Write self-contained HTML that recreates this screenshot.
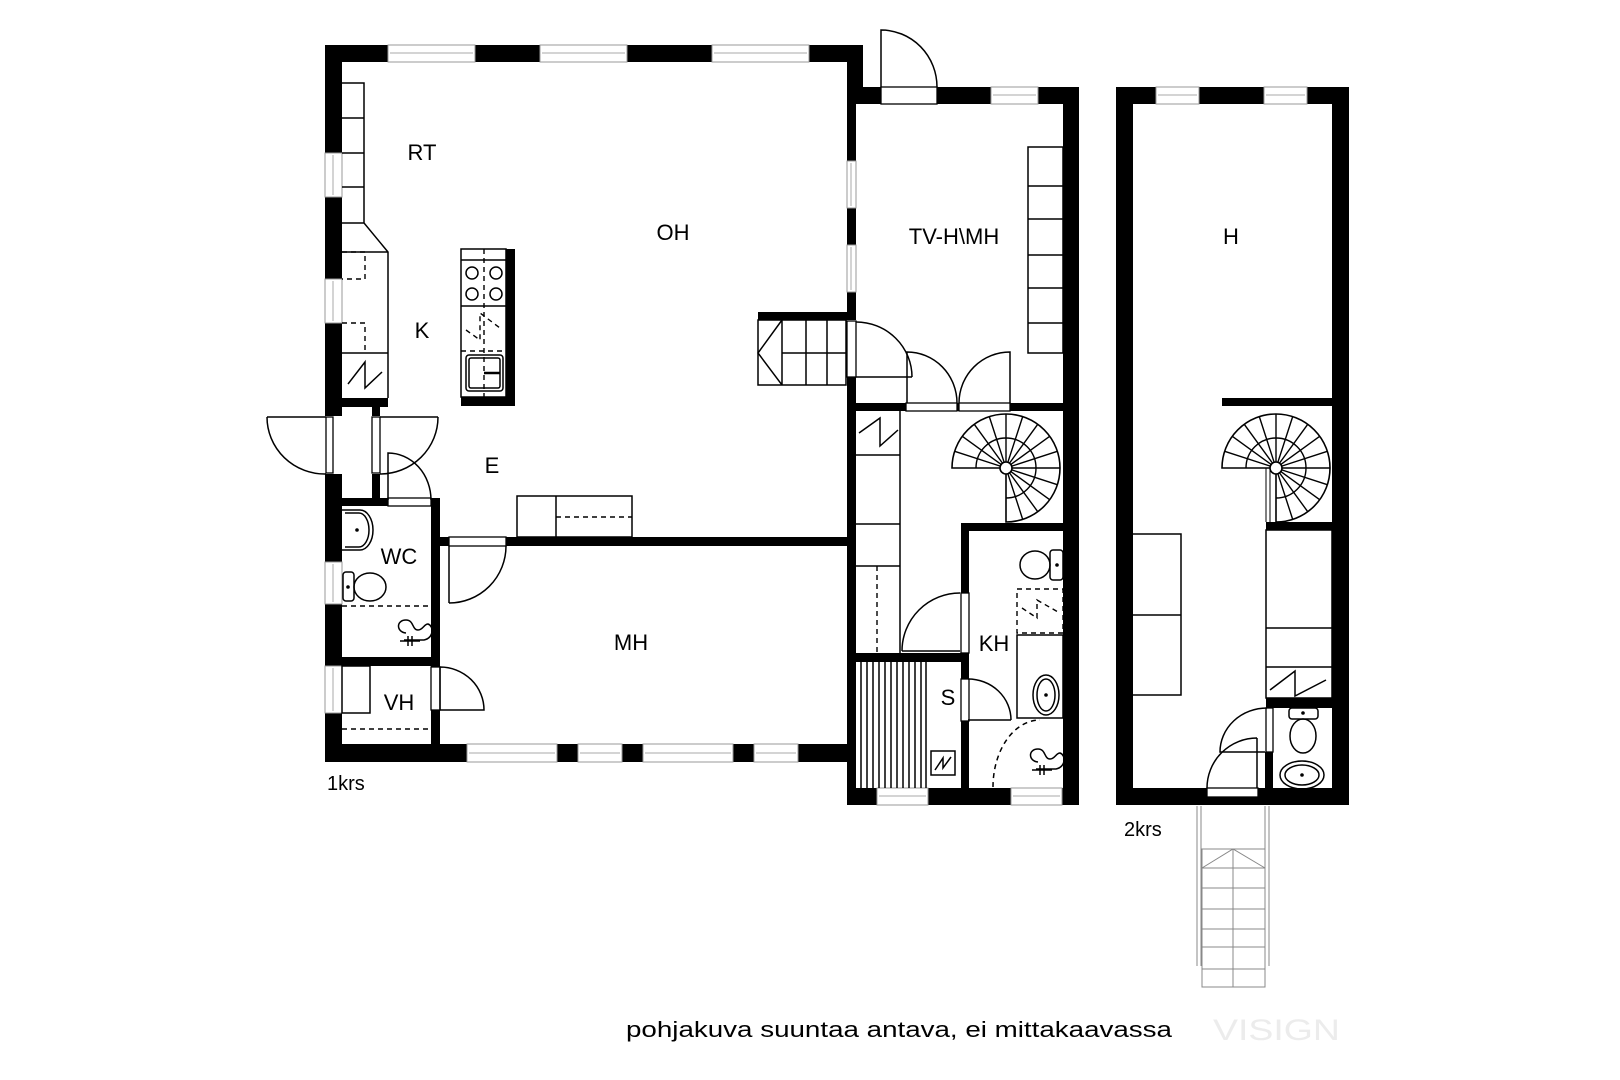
<!DOCTYPE html>
<html><head><meta charset="utf-8"><style>
html,body{margin:0;padding:0;background:#fff;}
svg{display:block;}
text{font-family:"Liberation Sans",sans-serif;fill:#000;}
</style></head><body>
<svg width="1620" height="1080" viewBox="0 0 1620 1080" xmlns="http://www.w3.org/2000/svg">
<rect width="1620" height="1080" fill="#fff"/>
<defs>
<g id="sp">
  <path d="M-54 0 A54 54 0 1 1 0 54 L0 0 Z" fill="#fff" stroke="#000" stroke-width="1.6"/>
  <path d="M-30 0 A30 30 0 1 1 0 30" fill="none" stroke="#000" stroke-width="1.4"/>
  <g stroke="#000" stroke-width="1.4">
    <line x1="6" x2="54" transform="rotate(198)"/>
    <line x1="6" x2="54" transform="rotate(216)"/>
    <line x1="6" x2="54" transform="rotate(234)"/>
    <line x1="6" x2="54" transform="rotate(252)"/>
    <line x1="6" x2="54" transform="rotate(270)"/>
    <line x1="6" x2="54" transform="rotate(288)"/>
    <line x1="6" x2="54" transform="rotate(306)"/>
    <line x1="6" x2="54" transform="rotate(324)"/>
    <line x1="6" x2="54" transform="rotate(342)"/>
    <line x1="6" x2="54" transform="rotate(0)"/>
    <line x1="6" x2="54" transform="rotate(18)"/>
    <line x1="6" x2="54" transform="rotate(36)"/>
    <line x1="6" x2="54" transform="rotate(54)"/>
    <line x1="6" x2="54" transform="rotate(72)"/>
  </g>
  <circle r="6" fill="#fff" stroke="#000" stroke-width="1.6"/>
</g>
</defs>

<!-- WALLS -->
<g fill="#000">
  <rect x="325" y="45" width="538" height="17"/>
  <rect x="325" y="45" width="17" height="717"/>
  <rect x="847" y="45" width="16" height="43"/>
  <rect x="847" y="88" width="9" height="224"/>
  <rect x="758" y="312" width="98" height="8"/>
  <rect x="847" y="377" width="9" height="428"/>
  <rect x="325" y="398" width="63" height="9"/>
  <rect x="372" y="398" width="8" height="18"/>
  <rect x="372" y="474" width="8" height="26"/>
  <rect x="325" y="498" width="115" height="8"/>
  <rect x="431" y="498" width="9" height="246"/>
  <rect x="325" y="657" width="115" height="9"/>
  <rect x="440" y="537" width="416" height="9"/>
  <rect x="325" y="744" width="531" height="18"/>
  <rect x="506" y="249" width="9" height="157"/>
  <rect x="461" y="397" width="54" height="9"/>
  <rect x="847" y="87" width="232" height="17"/>
  <rect x="1063" y="87" width="16" height="718"/>
  <rect x="847" y="403" width="216" height="8"/>
  <rect x="961" y="523" width="102" height="8"/>
  <rect x="961" y="523" width="8" height="265"/>
  <rect x="847" y="653" width="122" height="9"/>
  <rect x="847" y="788" width="232" height="17"/>
  <rect x="1116" y="87" width="233" height="17"/>
  <rect x="1116" y="87" width="17" height="718"/>
  <rect x="1332" y="87" width="17" height="718"/>
  <rect x="1222" y="398" width="110" height="8"/>
  <rect x="1266" y="522" width="66" height="8"/>
  <rect x="1266" y="698" width="66" height="10"/>
  <rect x="1265" y="752" width="8" height="36"/>
  <rect x="1116" y="788" width="233" height="17"/>
</g>

<!-- WINDOWS -->
<g fill="#fff" stroke="#999" stroke-width="1">
  <rect x="388" y="45" width="87" height="17"/>
  <rect x="540" y="45" width="87" height="17"/>
  <rect x="712" y="45" width="97" height="17"/>
  <rect x="325" y="153" width="17" height="44"/>
  <rect x="325" y="279" width="17" height="44"/>
  <rect x="325" y="562" width="17" height="42"/>
  <rect x="325" y="666" width="17" height="47"/>
  <rect x="847" y="161" width="9" height="47"/>
  <rect x="847" y="245" width="9" height="47"/>
  <rect x="467" y="744" width="90" height="18"/>
  <rect x="578" y="744" width="44" height="18"/>
  <rect x="643" y="744" width="90" height="18"/>
  <rect x="754" y="744" width="44" height="18"/>
  <rect x="991" y="87" width="47" height="17"/>
  <rect x="877" y="788" width="51" height="17"/>
  <rect x="1011" y="788" width="51" height="17"/>
  <rect x="1156" y="87" width="43" height="17"/>
  <rect x="1264" y="87" width="43" height="17"/>
</g>
<g stroke="#aaa" stroke-width="1">
  <line x1="390" y1="53" x2="473" y2="53"/><line x1="542" y1="53" x2="625" y2="53"/><line x1="714" y1="53" x2="807" y2="53"/>
  <line x1="333" y1="155" x2="333" y2="195"/><line x1="333" y1="281" x2="333" y2="321"/><line x1="333" y1="564" x2="333" y2="602"/><line x1="333" y1="668" x2="333" y2="711"/>
  <line x1="851" y1="163" x2="851" y2="206"/><line x1="851" y1="247" x2="851" y2="290"/>
  <line x1="469" y1="753" x2="555" y2="753"/><line x1="580" y1="753" x2="620" y2="753"/><line x1="645" y1="753" x2="731" y2="753"/><line x1="756" y1="753" x2="796" y2="753"/>
  <line x1="993" y1="95" x2="1036" y2="95"/><line x1="879" y1="796" x2="926" y2="796"/><line x1="1013" y1="796" x2="1060" y2="796"/>
  <line x1="1158" y1="95" x2="1197" y2="95"/><line x1="1266" y1="95" x2="1305" y2="95"/>
</g>
<g fill="#fff" stroke="#000" stroke-width="1.3">
  <rect x="325" y="416" width="17" height="58" stroke="none"/>
  <rect x="326" y="417" width="7" height="56"/>
  <rect x="372" y="417" width="8" height="56"/>
  <rect x="388" y="498" width="43" height="8"/>
  <rect x="449" y="537" width="57" height="9"/>
  <rect x="431" y="667" width="9" height="43"/>
  <rect x="881" y="87" width="56" height="17"/>
  <rect x="906" y="403" width="51" height="8"/>
  <rect x="959" y="403" width="51" height="8"/>
  <rect x="961" y="593" width="8" height="60"/>
  <rect x="961" y="679" width="8" height="42"/>
  <rect x="847" y="321" width="9" height="56"/>
  <rect x="1207" y="788" width="51" height="9"/>
  <rect x="1266" y="708" width="7" height="44"/>
</g>

<!-- DOORS -->
<g fill="none" stroke="#000" stroke-width="1.5">
  <path d="M267 417 H326 M267 417 A58 57 0 0 0 326 474"/>
  <path d="M438 417 H380 M438 417 A58 57 0 0 1 380 474"/>
  <path d="M388 500 V453 A43 47 0 0 1 431 500"/>
  <path d="M449 546 V603 M506 546 A57 57 0 0 1 449 603"/>
  <path d="M440 710 V667 A44 43 0 0 1 484 710 H440"/>
  <path d="M881 87 V30 A56 57 0 0 1 937 87"/>
  <path d="M856 377 H912 M856 322 A56 55 0 0 1 912 377"/>
  <path d="M907 403 V352 A50 51 0 0 1 957 403"/>
  <path d="M1010 403 V352 A51 51 0 0 0 959 403"/>
  <path d="M902 651 H960 M902 651 A58 58 0 0 1 960 593"/>
  <path d="M968 720 H1011 M968 679 A43 41 0 0 1 1011 720"/>
  <path d="M1267 708 A47 44 0 0 0 1220 752 H1265"/>
  <path d="M1257 788 V738 M1257 738 A50 50 0 0 0 1207 788"/>
</g>
<path d="M993 787 A47 67 0 0 1 1040 720" fill="none" stroke="#000" stroke-width="1.5" stroke-dasharray="5,4"/>

<!-- FIXTURES -->
<g fill="none" stroke="#000" stroke-width="1.5">
  <path d="M342 83 H364 V223 L388 252 V398 M342 118 H364 M342 153 H364 M342 187 H364 M342 223 H364 M342 252 H388 M342 353 H388"/>
  <polyline points="348,384 365,362 365,388 382,372"/>
  <rect x="461" y="249" width="45" height="148"/>
  <line x1="461" y1="260" x2="506" y2="260"/>
  <line x1="461" y1="306" x2="506" y2="306"/>
  <circle cx="472" cy="273" r="6"/><circle cx="496" cy="273" r="6"/>
  <circle cx="472" cy="294" r="6"/><circle cx="496" cy="294" r="6"/>
  <rect x="466" y="355" width="37" height="36" rx="3"/>
  <rect x="469" y="358" width="31" height="30" rx="2"/>
  <line x1="484" y1="373" x2="500" y2="373" stroke-width="2.5"/>
  <rect x="758" y="320" width="88" height="65"/>
  <path d="M782 320 V385 M806 320 V385 M827 320 V385 M782 353 H846 M782 320 L758 353 L782 385"/>
  <rect x="517" y="496" width="115" height="41"/>
  <line x1="556" y1="496" x2="556" y2="537"/>
  <path d="M342 510 H360 A13 20 0 0 1 360 550 H342"/>
  <path d="M345 513 H359 A10 17 0 0 1 359 547 H345"/>
  <rect x="343" y="572" width="11" height="29" rx="3"/>
  <ellipse cx="370" cy="587" rx="16" ry="14"/>
  <path d="M406 633 C396 632 396 620 406 620 C414 620 412 630 418 630 C423 630 424 624 428 624 C434 626 434 638 424 640 H404 M408 636 V646 M412 636 V646 M400 641 H420"/>
  <rect x="342" y="666" width="28" height="47"/>
  <rect x="1028" y="147" width="35" height="206"/>
  <path d="M1028 186 H1063 M1028 219 H1063 M1028 255 H1063 M1028 288 H1063 M1028 323 H1063"/>
  <path d="M900 411 V653 M855 455 H900 M855 524 H900 M855 566 H900"/>
  <polyline points="859,433 880,418 880,446 898,430"/>
  <path d="M926 662 V788 M861 662 V788"/>
  <rect x="931" y="751" width="24" height="24"/>
  <polyline points="935,770 943,758 943,768 951,757"/>
  <rect x="1050" y="550" width="13" height="30" rx="3"/>
  <ellipse cx="1035" cy="565" rx="15" ry="14"/>
  <rect x="1017" y="635" width="46" height="83"/>
  <ellipse cx="1046" cy="695" rx="13" ry="20"/>
  <ellipse cx="1046" cy="695" rx="9" ry="16"/>
  <path d="M1038 762 C1028 761 1028 749 1038 749 C1046 749 1044 759 1050 759 C1055 759 1056 753 1060 753 C1066 755 1066 767 1056 769 H1036 M1040 765 V775 M1044 765 V775 M1032 770 H1052"/>
  <rect x="1132" y="534" width="49" height="161"/>
  <line x1="1132" y1="615" x2="1181" y2="615"/>
  <rect x="1266" y="530" width="66" height="168"/>
  <path d="M1266 628 H1332 M1266 667 H1332"/>
  <polyline points="1270,690 1295,671 1295,696 1326,680"/>
  <rect x="1289" y="708" width="29" height="11" rx="3"/>
  <ellipse cx="1303" cy="736" rx="13" ry="17"/>
  <ellipse cx="1302" cy="775" rx="22" ry="14"/>
  <ellipse cx="1302" cy="775" rx="17" ry="10"/>
  <path d="M1266 468 V522 M1270 468 V522" stroke-width="1"/>
</g>
<g fill="#000">
  <circle cx="357" cy="530" r="1.8"/><circle cx="348" cy="587" r="1.8"/>
  <circle cx="1057" cy="565" r="1.8"/><circle cx="1046" cy="695" r="1.8"/>
  <circle cx="1303" cy="713" r="1.8"/><circle cx="1302" cy="775" r="1.8"/>
</g>
<g fill="none" stroke="#000" stroke-width="1.4" stroke-dasharray="5,4">
  <path d="M342 252 H365 V279 H342 M342 323 H365 V353"/>
  <line x1="484" y1="249" x2="484" y2="406"/>
  <line x1="461" y1="351" x2="506" y2="351"/>
  <polyline points="466,330 480,340 480,313 500,328"/>
  <line x1="556" y1="517" x2="632" y2="517"/>
  <line x1="342" y1="606" x2="431" y2="606"/>
  <line x1="342" y1="729" x2="431" y2="729"/>
  <line x1="877" y1="566" x2="877" y2="653"/>
  <rect x="1017" y="589" width="46" height="44"/>
  <polyline points="1022,608 1037,618 1037,600 1058,612"/>
</g>
<g stroke="#000" stroke-width="1.5">
  <line x1="867" y1="662" x2="867" y2="788"/><line x1="873" y1="662" x2="873" y2="788"/>
  <line x1="879" y1="662" x2="879" y2="788"/><line x1="885" y1="662" x2="885" y2="788"/>
  <line x1="891" y1="662" x2="891" y2="788"/><line x1="897" y1="662" x2="897" y2="788"/>
  <line x1="903" y1="662" x2="903" y2="788"/><line x1="909" y1="662" x2="909" y2="788"/>
  <line x1="915" y1="662" x2="915" y2="788"/><line x1="921" y1="662" x2="921" y2="788"/>
</g>

<use href="#sp" transform="translate(1006,468)"/>
<use href="#sp" transform="translate(1276,468)"/>

<g fill="none" stroke="#888" stroke-width="1">
  <path d="M1197 806 V966 M1201 806 V966 M1265 806 V966 M1269 806 V966"/>
  <rect x="1202" y="849" width="63" height="138"/>
  <path d="M1233 849 V987 M1202 868 H1265 M1202 888 H1265 M1202 909 H1265 M1202 929 H1265 M1202 947 H1265 M1202 969 H1265 M1202 868 L1233 849 L1265 868"/>
</g>

<g font-size="22" text-anchor="middle">
  <text x="422" y="160">RT</text>
  <text x="673" y="240">OH</text>
  <text x="422" y="338">K</text>
  <text x="492" y="473">E</text>
  <text x="399" y="564">WC</text>
  <text x="399" y="710">VH</text>
  <text x="631" y="650">MH</text>
  <text x="954" y="244">TV-H\MH</text>
  <text x="1231" y="244">H</text>
  <text x="948" y="705">S</text>
  <text x="994" y="651">KH</text>
</g>
<text x="327" y="790" font-size="20">1krs</text>
<text x="1124" y="836" font-size="20">2krs</text>
<text x="626" y="1037" font-size="22" textLength="546" lengthAdjust="spacingAndGlyphs">pohjakuva suuntaa antava, ei mittakaavassa</text>
<text x="1213" y="1040" font-size="30" font-family="Liberation Serif" style="fill:#ececec" textLength="127" lengthAdjust="spacingAndGlyphs">VISIGN</text>
</svg>
</body></html>
